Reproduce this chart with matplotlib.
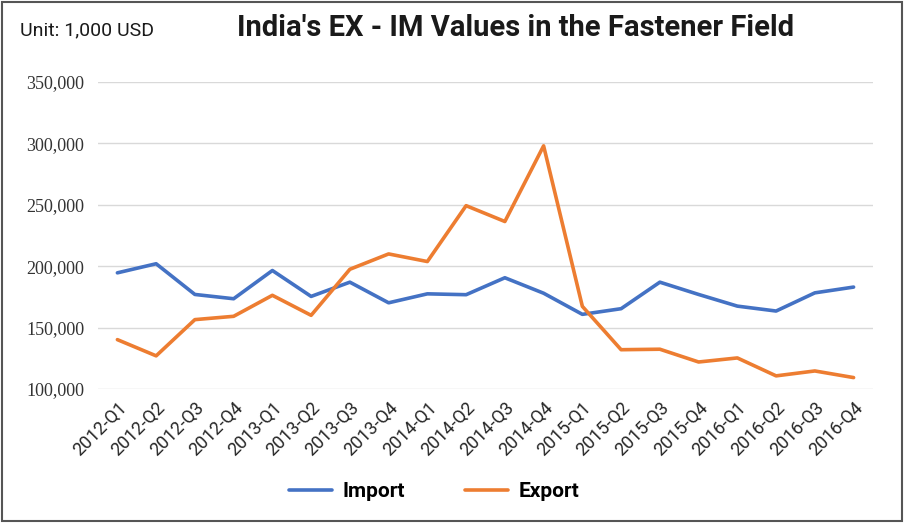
import matplotlib
matplotlib.use("Agg")
import matplotlib.pyplot as plt
from matplotlib.patches import Rectangle
from matplotlib.ticker import FuncFormatter

quarters = ["2012-Q1", "2012-Q2", "2012-Q3", "2012-Q4",
            "2013-Q1", "2013-Q2", "2013-Q3", "2013-Q4",
            "2014-Q1", "2014-Q2", "2014-Q3", "2014-Q4",
            "2015-Q1", "2015-Q2", "2015-Q3", "2015-Q4",
            "2016-Q1", "2016-Q2", "2016-Q3", "2016-Q4"]

import_vals = [194600, 202000, 177000, 173500, 196500, 175400, 187000, 170200,
               177500, 176800, 190600, 178000, 160800, 165400, 187000, 177000,
               167500, 163500, 178300, 183000]

export_vals = [140200, 127000, 156500, 159200, 176300, 160000, 197500, 210000,
               203800, 249300, 236400, 298000, 167300, 132000, 132400, 122000,
               125300, 110700, 114700, 109300]

y_ticks = [100000, 150000, 200000, 250000, 300000, 350000]

blue = "#4472C4"
orange = "#ED7D31"

fig = plt.figure(figsize=(9.05, 5.23), dpi=100)
ax = fig.add_axes([0.1083, 0.2562, 0.8563, 0.587])

x = list(range(len(quarters)))
ax.plot(x, import_vals, color=blue, linewidth=2.6, label="Import", solid_capstyle="round")
ax.plot(x, export_vals, color=orange, linewidth=2.6, label="Export", solid_capstyle="round")

ax.set_xlim(-0.5, len(quarters) - 0.5)
ax.set_ylim(100000, 350000)
ax.set_yticks(y_ticks)
ax.yaxis.set_major_formatter(FuncFormatter(lambda v, p: f"{int(v):,}"))
for lab in ax.get_yticklabels():
    lab.set_fontfamily("Liberation Serif")
    lab.set_fontsize(13)
    lab.set_color("#333333")
ax.tick_params(axis="y", length=0, pad=10)

ax.set_xticks(x)
ax.set_xticklabels(quarters, rotation=45, ha="right", va="top",
                   rotation_mode="anchor", fontsize=13, fontfamily="Roboto",
                   color="#262626")
ax.tick_params(axis="x", length=0, pad=7)

ax.grid(axis="y", color="#D9D9D9", linewidth=1)
ax.set_axisbelow(True)
for s in ax.spines.values():
    s.set_visible(False)

leg = fig.legend(loc="center", bbox_to_anchor=(0.48, 0.06), ncol=2, frameon=False,
                 prop={"family": "Roboto", "weight": "bold", "size": 15},
                 handlelength=2.05, columnspacing=2.9, handletextpad=0.5)

fig.text(0.022, 0.942, "Unit: 1,000 USD", fontsize=14, fontfamily="Roboto",
         color="#1a1a1a", va="center", ha="left")
fig.text(0.570, 0.947, "India's EX - IM Values in the Fastener Field", fontsize=21,
         fontweight="bold", fontfamily="Roboto", color="#1a1a1a", va="center", ha="center")

fig.patches.append(Rectangle((0.002, 0.003), 0.995, 0.994, transform=fig.transFigure,
                             fill=False, edgecolor="#555555", linewidth=1.5))

fig.savefig("out.png", dpi=100)
